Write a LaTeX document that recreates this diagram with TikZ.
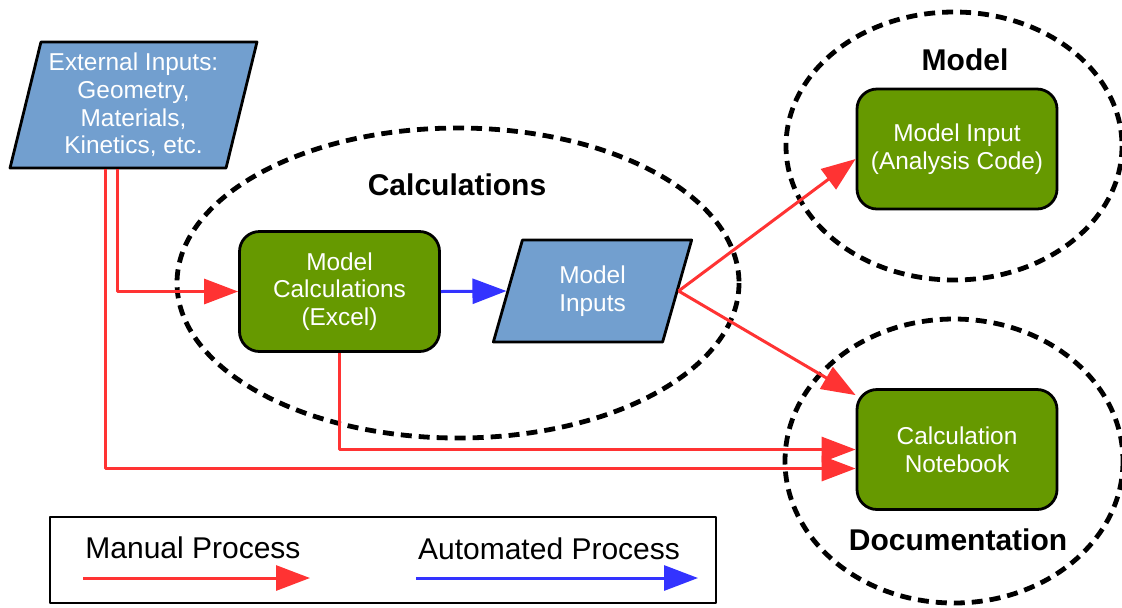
\documentclass[tikz,border=0pt]{standalone}
\usepackage{fontspec}
\setmainfont{Liberation Sans}
\usetikzlibrary{arrows.meta}
\usetikzlibrary{calc}
\usetikzlibrary{shapes.geometric}
\usetikzlibrary{positioning}
\definecolor{boxgreen}{RGB}{102,153,0}
\definecolor{inblue}{RGB}{114,159,207}
\definecolor{manred}{RGB}{255,51,51}
\definecolor{autoblue}{RGB}{51,51,255}

\begin{document}
\begin{tikzpicture}[x=0.5pt,y=-0.5pt,>={Triangle[length=17pt,width=12.5pt]}
  ,line join=round
  ,txt/.style={text=white,font=\fontsize{12.2}{13.9}\selectfont,align=center}
  ,task/.style={txt,draw,line width=1.4pt,fill=boxgreen,rounded corners=10pt,
    minimum width=100pt,minimum height=60pt}
  ,data/.style={txt,draw,line width=1.4pt,fill=inblue,trapezium,inner sep=1pt,
    trapezium left angle=75,trapezium right angle=105,trapezium stretches=true}
  ,group/.style={line width=2.4pt,dash pattern=on 5.5pt off 3.5pt}
  ,grouptitle/.style={font=\fontsize{15}{18}\selectfont\bfseries}
  ,legendtext/.style={font=\fontsize{15}{18}\selectfont}
  ,manual/.style={->,manred,line width=1.5pt}
  ,autoline/.style={->,autoblue,line width=1.5pt}]
\useasboundingbox (0,0) rectangle (1122,607);

% dashed groups
\draw[group] (458,283) ellipse [x radius=281,y radius=155];
\draw[group] (954,146) ellipse [x radius=168,y radius=134];
\draw[group] (954,461) ellipse [x radius=169,y radius=142];
\node[grouptitle] (calctitle) at (457,185) {Calculations};
\node[grouptitle] (modeltitle) at (965,60) {Model};
\node[grouptitle] (doctitle) at (958,540) {Documentation};

\node[data,minimum width=123.5pt,minimum height=63pt] (ext) at (133.5,105)
  {External Inputs:\\Geometry,\\Materials,\\Kinetics, etc.};
\node[task] (mc) at (339.5,291.5) {Model\\Calculations\\(Excel)};
\node[data,minimum width=99.5pt,minimum height=51pt] (mi) at (592.5,291)
  {Model\\Inputs};
\node[task] (mp) at (957,149) {Model Input\\(Analysis Code)};
\node[task] (nb) at (957,449.5) {Calculation\\Notebook};

\draw[manual] (ext.south) ++(-16,0) |- (mc.west);
\draw[manual] (ext.south) ++(-28,0) |- ([yshift=-9.5pt]nb.west);
\draw[autoline] (mc.east) -- (mi.west);
\draw[manual] (mi.east) -- ([yshift=-5pt]mp.west);
\draw[manual] (mi.east) -- ([yshift=-3.5pt]nb.north west);
\draw[manual] (mc.south) |- (nb.west);

% legend
\node[draw,line width=1.4pt,minimum width=333pt,minimum height=43pt] (legend)
  at (383,560) {};
\node[legendtext] (mantext) at (193,548) {Manual Process};
\node[legendtext] (auttext) at (549,549) {Automated Process};
\coordinate (man1) at (83,578);
\coordinate (man2) at (310,578);
\coordinate (aut1) at (416,578);
\coordinate (aut2) at (698,578);
\draw[manual] (man1) -- (man2);
\draw[autoline] (aut1) -- (aut2);

\end{tikzpicture}
\end{document}
